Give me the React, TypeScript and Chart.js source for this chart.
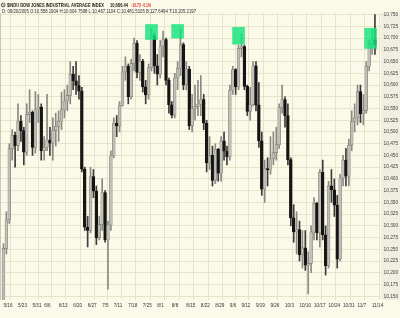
import { useEffect, useRef } from 'react';
import { Chart, registerables } from 'chart.js';

Chart.register(...registerables);

// ---- Data (DJIA daily, 5/16/2005 .. 11/15/2005) ----
const opens = [
  10140, 10252, 10313, 10464, 10493, 10471, 10523, 10503, 10457, 10537,
  10542, 10467, 10549, 10553, 10460, 10467, 10483, 10476, 10503, 10512,
  10523, 10547, 10566, 10578, 10623, 10609, 10599, 10587, 10421, 10297,
  10290, 10405, 10374, 10275, 10303, 10371, 10270, 10302, 10449, 10519,
  10513, 10557, 10628, 10640, 10575, 10646, 10689, 10627, 10651, 10596,
  10579, 10637, 10705, 10641, 10623, 10683, 10697, 10610, 10558, 10536,
  10615, 10636, 10686, 10600, 10634, 10513, 10550, 10554, 10559, 10569,
  10519, 10434, 10450, 10397, 10463, 10412, 10481, 10459, 10447, 10589,
  10633, 10596, 10678, 10682, 10597, 10544, 10558, 10641, 10558, 10481,
  10378, 10422, 10419, 10443, 10456, 10473, 10552, 10569, 10535, 10441,
  10317, 10287, 10292, 10238, 10253, 10216, 10220, 10287, 10348, 10285,
  10414, 10281, 10215, 10385, 10377, 10344, 10229, 10402, 10440, 10406,
  10472, 10522, 10530, 10586, 10539, 10546, 10640, 10686, 10697,
];
const highs = [
  10262, 10330, 10475, 10505, 10500, 10560, 10535, 10510, 10560, 10590,
  10545, 10586, 10580, 10560, 10490, 10580, 10510, 10530, 10540, 10545,
  10585, 10590, 10600, 10650, 10640, 10650, 10620, 10595, 10425, 10320,
  10425, 10420, 10385, 10320, 10400, 10375, 10310, 10460, 10530, 10535,
  10565, 10640, 10660, 10645, 10655, 10700, 10695, 10665, 10655, 10610,
  10645, 10720, 10710, 10665, 10695, 10715, 10700, 10615, 10565, 10625,
  10650, 10720, 10690, 10650, 10640, 10580, 10600, 10610, 10620, 10580,
  10525, 10490, 10470, 10475, 10465, 10490, 10500, 10470, 10600, 10640,
  10635, 10685, 10710, 10685, 10600, 10595, 10650, 10650, 10605, 10500,
  10440, 10445, 10490, 10500, 10510, 10560, 10600, 10575, 10560, 10445,
  10345, 10330, 10310, 10290, 10290, 10245, 10300, 10360, 10350, 10420,
  10440, 10300, 10395, 10420, 10400, 10365, 10410, 10450, 10465, 10485,
  10545, 10560, 10600, 10600, 10580, 10650, 10695, 10720, 10750,
];
const lows = [
  10138, 10240, 10305, 10440, 10425, 10460, 10480, 10430, 10450, 10520,
  10450, 10455, 10520, 10440, 10440, 10460, 10450, 10440, 10470, 10480,
  10505, 10530, 10545, 10560, 10590, 10580, 10570, 10415, 10290, 10255,
  10285, 10360, 10260, 10270, 10290, 10265, 10165, 10290, 10445, 10490,
  10500, 10555, 10610, 10560, 10570, 10630, 10615, 10610, 10585, 10560,
  10570, 10630, 10625, 10600, 10615, 10660, 10600, 10540, 10530, 10530,
  10590, 10620, 10590, 10590, 10505, 10500, 10525, 10535, 10535, 10505,
  10415, 10420, 10385, 10390, 10395, 10395, 10440, 10430, 10440, 10580,
  10580, 10590, 10660, 10590, 10535, 10525, 10555, 10545, 10467, 10365,
  10350, 10385, 10410, 10430, 10440, 10465, 10540, 10510, 10430, 10300,
  10265, 10240, 10225, 10210, 10205, 10155, 10200, 10270, 10270, 10255,
  10270, 10195, 10210, 10350, 10320, 10210, 10225, 10385, 10385, 10385,
  10460, 10500, 10515, 10520, 10515, 10540, 10630, 10665, 10665,
];
const closes = [
  10252, 10313, 10464, 10493, 10471, 10523, 10503, 10457, 10537, 10542,
  10467, 10549, 10553, 10460, 10467, 10483, 10476, 10503, 10512, 10523,
  10547, 10566, 10578, 10623, 10609, 10599, 10587, 10421, 10297, 10290,
  10405, 10374, 10275, 10303, 10371, 10270, 10302, 10449, 10519, 10513,
  10557, 10628, 10640, 10575, 10646, 10689, 10627, 10651, 10596, 10579,
  10637, 10705, 10641, 10623, 10683, 10697, 10610, 10558, 10536, 10615,
  10636, 10686, 10600, 10634, 10513, 10550, 10554, 10559, 10569, 10519,
  10434, 10450, 10397, 10463, 10412, 10481, 10459, 10447, 10589, 10633,
  10596, 10678, 10682, 10597, 10544, 10558, 10641, 10557, 10481, 10378,
  10422, 10419, 10443, 10456, 10473, 10552, 10569, 10535, 10441, 10317,
  10287, 10292, 10238, 10253, 10216, 10220, 10287, 10348, 10285, 10414,
  10281, 10215, 10385, 10377, 10344, 10229, 10402, 10440, 10406, 10472,
  10522, 10530, 10586, 10539, 10546, 10640, 10686, 10697, 10686,
];

const xTickIndex = [0, 5, 10, 14, 19, 24, 29, 34, 38, 43, 48, 53, 58, 63, 68, 73, 78, 82, 87, 92, 97, 102, 107, 112, 117, 122, 127];
const xTickLabels = ['5/16', '5/23', '5/31', '6/6', '6/13', '6/20', '6/27', '7/5', '7/11', '7/18', '7/25', '8/1', '8/8', '8/15', '8/22', '8/29', '9/6', '9/12', '9/19', '9/26', '10/3', '10/10', '10/17', '10/24', '10/31', '11/7', '11/14'];
const yTicks = [10150, 10175, 10200, 10225, 10250, 10275, 10300, 10325, 10350, 10375, 10400, 10425, 10450, 10475, 10500, 10525, 10550, 10575, 10600, 10625, 10650, 10675, 10700, 10725, 10750];

// highlighted tops
const boxIndex = [51, 60, 81, 126.5];
const boxLows = [10697, 10700, 10687, 10678];
const boxHighs = [10729, 10729, 10723, 10721];

const headerName = '$INDU DOW JONES INDUSTRIAL AVERAGE INDEX';
const headerLast = '10,686.44';
const headerChange = '-10.73';
const headerPct = '-0.1%';
const headerLine2 = 'D: 09/20/2005 O:10,558.1904 H:10,604.7598 L:10,467.1104 C:10,481.5105 B:127.6494 T:10,205.2197';

const BG = '#fbf9e8';
const STRIP = '#efeee0';
const GRID = '#e7e3cb';
const UP_BODY = '#c0c0b8';
const UP_EDGE = '#7e7e76';
const DOWN_BODY = '#151515';
const UP_WICK = '#8a8a82';
const DOWN_WICK = '#3c3c3c';
const FONT = "'Liberation Sans', Arial, sans-serif";

const bgPlugin = {
  id: 'bgPlugin',
  beforeDraw(chart: any) {
    const { ctx, width, height, chartArea } = chart;
    ctx.save();
    ctx.fillStyle = BG;
    ctx.fillRect(0, 0, width, height);
    ctx.fillStyle = STRIP;
    ctx.fillRect(chartArea.right, chartArea.top, width - chartArea.right, chartArea.bottom - chartArea.top);
    ctx.restore();
  },
  afterDraw(chart: any) {
    const { ctx, chartArea } = chart;
    ctx.save();
    ctx.strokeStyle = '#c9c7b6';
    ctx.lineWidth = 1;
    ctx.beginPath();
    ctx.moveTo(0.5, chartArea.top);
    ctx.lineTo(0.5, chartArea.bottom);
    ctx.stroke();
    ctx.strokeStyle = '#333';
    ctx.lineWidth = 0.8;
    ctx.beginPath();
    ctx.arc(3.2, 5, 1.9, 0, Math.PI * 2);
    ctx.stroke();
    ctx.fillStyle = '#333';
    ctx.beginPath();
    ctx.arc(3.2, 5, 0.6, 0, Math.PI * 2);
    ctx.fill();
    ctx.textBaseline = 'alphabetic';
    ctx.textAlign = 'left';
    ctx.font = `bold 5.5px ${FONT}`;
    ctx.fillStyle = '#1a1a1a';
    ctx.fillText(headerName, 7, 7.2, 97);
    ctx.fillText(headerLast, 110, 7.2, 18);
    ctx.fillStyle = '#e0302a';
    ctx.fillText(headerChange, 131, 7.2, 10);
    ctx.fillText(headerPct, 142, 7.2, 9);
    ctx.font = `5.5px ${FONT}`;
    ctx.fillStyle = '#2a2a2a';
    ctx.fillText(headerLine2, 2, 13.4, 194);
    ctx.restore();
  },
};

export default function App() {
  const ref = useRef<HTMLCanvasElement | null>(null);

  useEffect(() => {
    document.body.style.margin = '0';
    const canvas = ref.current;
    if (!canvas) return;
    const n = closes.length;
    const isUp = (i: number) => closes[i] >= opens[i];
    const wickData = closes.map((_, i) => ({ x: i, y: [lows[i], highs[i]] }));
    const bodyData = closes.map((c, i) => ({ x: i, y: [opens[i], c === opens[i] ? c + 1.5 : c] }));
    const boxData = boxIndex.map((b, i) => ({ x: b, y: [boxLows[i], boxHighs[i]] }));

    const chart = new Chart(canvas, {
      type: 'bar',
      data: {
        datasets: [
          {
            label: 'tops',
            data: boxData as any,
            backgroundColor: 'rgba(20, 228, 125, 0.82)',
            barThickness: 12,
            grouped: false,
            order: 0,
          } as any,
          {
            label: 'body',
            data: bodyData as any,
            backgroundColor: (c: any) => (isUp(c.dataIndex) ? UP_BODY : DOWN_BODY),
            borderColor: (c: any) => (isUp(c.dataIndex) ? UP_EDGE : DOWN_BODY),
            borderWidth: 0.6,
            borderSkipped: false,
            barThickness: 2.8,
            grouped: false,
            order: 1,
          } as any,
          {
            label: 'wick',
            data: wickData as any,
            backgroundColor: (c: any) => (isUp(c.dataIndex) ? UP_WICK : DOWN_WICK),
            barThickness: 1,
            grouped: false,
            order: 2,
          } as any,
        ],
      },
      options: {
        responsive: false,
        animation: false,
        devicePixelRatio: 1,
        layout: { padding: { top: 13, left: 1, right: 0, bottom: 0 } },
        plugins: { legend: { display: false }, tooltip: { enabled: false } },
        scales: {
          x: {
            type: 'linear',
            min: -0.86,
            max: n + 1.08,
            offset: false,
            afterBuildTicks: (s: any) => {
              s.ticks = xTickIndex.map((v) => ({ value: v }));
            },
            afterFit: (s: any) => {
              s.height = 18;
            },
            grid: { color: GRID, lineWidth: 1, drawTicks: false },
            border: { display: false },
            ticks: {
              autoSkip: false,
              maxRotation: 0,
              minRotation: 0,
              align: 'start',
              padding: 3,
              color: '#333',
              font: { family: FONT, size: 4.6 },
              callback: (v: any) => {
                const k = xTickIndex.indexOf(Number(v));
                return k >= 0 ? xTickLabels[k] : '';
              },
            },
          },
          y: {
            position: 'right',
            min: 10142,
            max: 10753.5,
            afterBuildTicks: (s: any) => {
              s.ticks = yTicks.map((v) => ({ value: v }));
            },
            afterFit: (s: any) => {
              s.width = 19;
            },
            grid: { color: GRID, lineWidth: 1, drawTicks: false },
            border: { display: false },
            ticks: {
              padding: 2.5,
              color: '#444',
              font: { family: FONT, size: 4.8 },
              callback: (v: any) => Number(v).toLocaleString('en-US'),
            },
          },
        },
      } as any,
      plugins: [bgPlugin],
    });
    return () => chart.destroy();
  }, []);

  return (
    <div style={{ width: 400, height: 318, background: BG }}>
      <canvas ref={ref} width={400} height={318} style={{ width: 400, height: 318, display: 'block' }} />
    </div>
  );
}
